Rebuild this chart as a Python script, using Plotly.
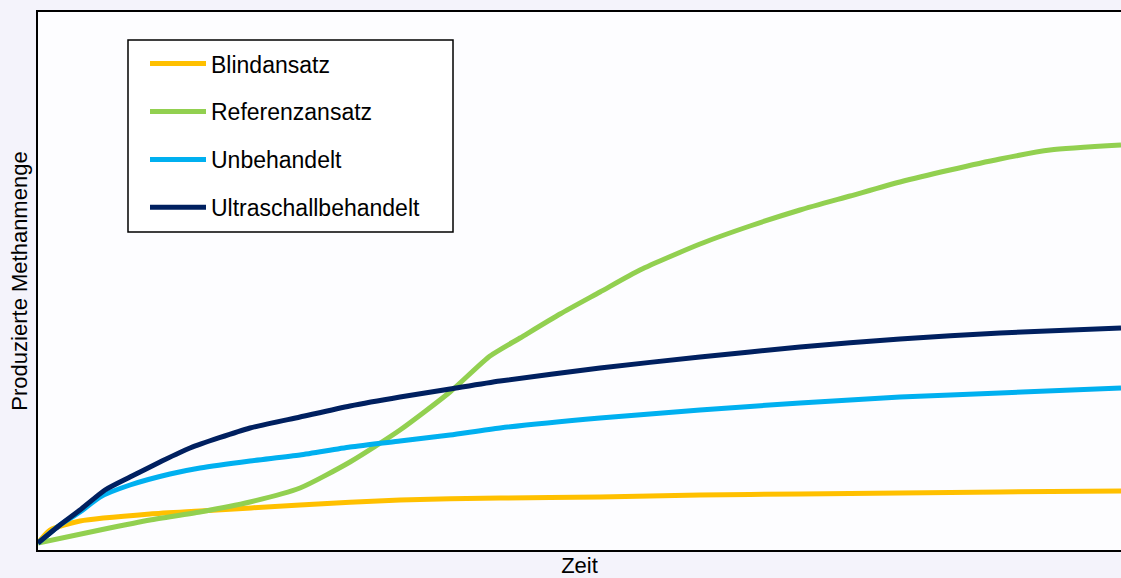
import plotly.graph_objects as go

# Time (arbitrary units) and produced methane (arbitrary units)
zeit_blind = [0, 12, 42, 112, 162, 262, 362, 462, 562, 662, 762, 862, 962, 1083]
blind = [7, 20, 29, 36, 39, 45, 50, 52, 53, 55, 56, 57, 58, 59]

zeit_ref = [0, 62, 112, 162, 212, 262, 312, 362, 412, 452, 482, 522, 562, 602, 662, 712, 762, 812, 862, 912, 962, 1012, 1083]
referenz = [7, 20, 30, 38, 48, 62, 88, 120, 158, 194, 212, 236, 258, 280, 306, 324, 340, 354, 368, 380, 391, 400, 405]

zeit_unb = [0, 22, 42, 62, 92, 132, 162, 212, 262, 312, 362, 412, 462, 562, 662, 762, 862, 962, 1083]
unbehandelt = [7, 25, 38, 53, 65, 76, 82, 89, 95, 103, 109, 115, 122, 132, 140, 147, 153, 157, 162]

zeit_us = [0, 22, 42, 67, 92, 122, 152, 212, 262, 312, 362, 412, 462, 562, 662, 762, 862, 962, 1083]
ultraschall = [7, 25, 40, 60, 73, 88, 102, 122, 133, 144, 153, 161, 169, 182, 193, 203, 211, 217, 222]

series = [
    ("Blindansatz", zeit_blind, blind, "#FFC000"),
    ("Referenzansatz", zeit_ref, referenz, "#92D050"),
    ("Unbehandelt", zeit_unb, unbehandelt, "#00B0F0"),
    ("Ultraschallbehandelt", zeit_us, ultraschall, "#002060"),
]

fig = go.Figure()
for i, (name, x, y, c) in enumerate(series):
    fig.add_trace(go.Scatter(x=x, y=y, name=name, mode="lines",
                             line=dict(color=c, width=5, shape="spline", smoothing=0.6),
                             legendgroup=f"g{i}"))

# legend frame (drawn as a shape so the legend entries can be inset like the original)
fig.add_shape(type="rect", xref="paper", yref="paper",
              x0=0.0831, x1=0.3832, y0=0.591, y1=0.948,
              line=dict(color="#000000", width=1.5), fillcolor="#ffffff", layer="below")

fig.update_layout(
    width=1121, height=578,
    margin=dict(l=38, r=0, t=12, b=28),
    paper_bgcolor="#f4f3fb",
    plot_bgcolor="#fdfdff",
    font=dict(family="Liberation Sans, Arial, sans-serif", color="#000000"),
    showlegend=True,
    legend=dict(
        x=0.0988, y=0.944, xanchor="left", yanchor="top",
        bgcolor="rgba(0,0,0,0)", borderwidth=0,
        font=dict(size=23, family="Liberation Sans, Arial, sans-serif"),
        tracegroupgap=15, itemwidth=56,
    ),
    xaxis=dict(range=[0, 1083], showgrid=False, zeroline=False, showticklabels=False,
               ticks="", showline=True, linecolor="#000000", linewidth=2, mirror=True,
               automargin=False,
               title=dict(text="Zeit", font=dict(size=22), standoff=10)),
    yaxis=dict(range=[0, 538], showgrid=False, zeroline=False, showticklabels=False,
               ticks="", showline=True, linecolor="#000000", linewidth=2,
               automargin=False,
               title=dict(text="Produzierte Methanmenge", font=dict(size=22), standoff=2)),
)

fig.write_html("out.html", config={"displayModeBar": False},
               post_script="document.body.style.margin='0';document.body.style.overflow='hidden';")
